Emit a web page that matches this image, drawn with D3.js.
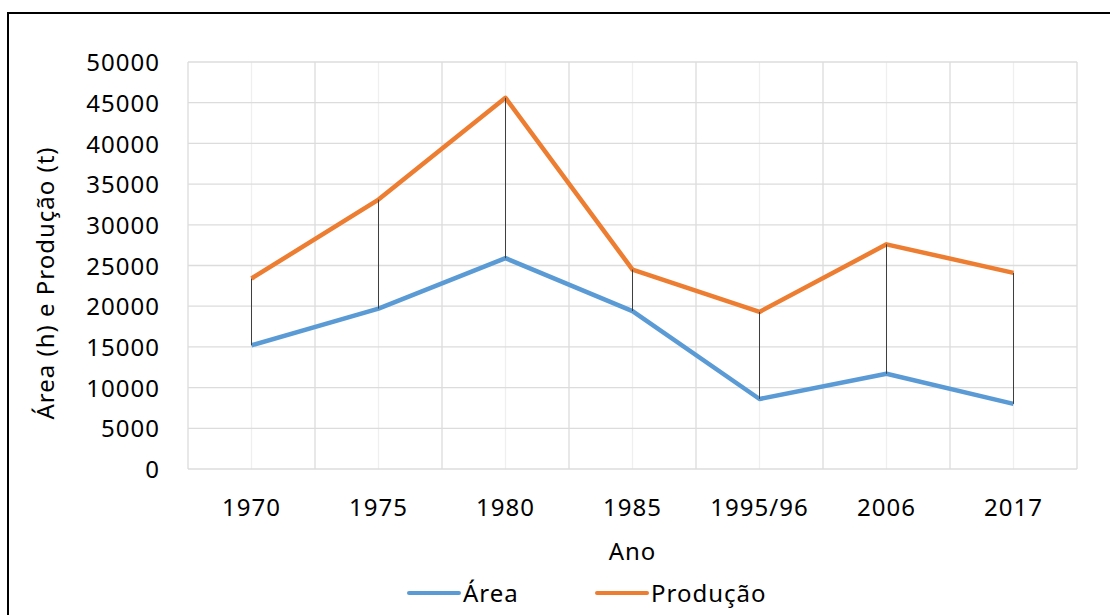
<!DOCTYPE html>
<html>
<head>
<meta charset="utf-8">
<script src="https://cdn.jsdelivr.net/npm/d3@7"></script>
<style>
	body { margin: 0; background: #fff; }
	svg text { font-family: 'Noto Sans', sans-serif; font-size: 24px; letter-spacing: 1px; fill: #000; }
</style>
</head>
<body>
<div id="chart"></div>
<script>
// Values
var anos = ['1970', '1975', '1980', '1985', '1995/96', '2006', '2017'];
var area = [15200, 19700, 25900, 19400, 8600, 11700, 8000];
var producao = [23400, 33100, 45600, 24500, 19300, 27600, 24100];
var yTicks = [0, 5000, 10000, 15000, 20000, 25000, 30000, 35000, 40000, 45000, 50000];
var seriesNames = ['Área', 'Produção'];
var seriesColors = ['#5b9bd5', '#ed7d31'];

var W = 1110, H = 615;
var margin = {top: 62, right: 33, bottom: 146, left: 188};

var svg = d3.select('#chart')
	.append('svg')
	.attr('width', W)
	.attr('height', H);

// outer frame (cut off at the right and bottom in the original)
svg.append('rect')
	.attr('x', 8)
	.attr('y', 13)
	.attr('width', W + 20)
	.attr('height', H + 20)
	.attr('fill', 'none')
	.attr('stroke', '#000')
	.attr('stroke-width', 2);

var x = d3.scaleBand().domain(anos).range([margin.left, W - margin.right]);
var y = d3.scaleLinear().domain([0, 50000]).range([H - margin.bottom, margin.top]);

var grid = svg.append('g').attr('class', 'grid');

// minor vertical gridlines at category centres
grid.selectAll('line.minor')
	.data(anos)
	.enter()
	.append('line')
	.attr('class', 'minor')
	.attr('x1', function(d) { return x(d) + x.bandwidth() / 2; })
	.attr('x2', function(d) { return x(d) + x.bandwidth() / 2; })
	.attr('y1', y(0))
	.attr('y2', y(50000))
	.attr('stroke', '#efefef')
	.attr('stroke-width', 1.3);

// major vertical gridlines at category boundaries
var bounds = anos.map(function(d) { return x(d); }).concat([x.range()[1]]);
grid.selectAll('line.major')
	.data(bounds)
	.enter()
	.append('line')
	.attr('class', 'major')
	.attr('x1', function(d) { return d; })
	.attr('x2', function(d) { return d; })
	.attr('y1', y(0))
	.attr('y2', y(50000))
	.attr('stroke', '#dcdcdc')
	.attr('stroke-width', 1.3);

// horizontal gridlines
grid.selectAll('line.h')
	.data(yTicks)
	.enter()
	.append('line')
	.attr('class', 'h')
	.attr('x1', x.range()[0])
	.attr('x2', x.range()[1])
	.attr('y1', function(d) { return y(d); })
	.attr('y2', function(d) { return y(d); })
	.attr('stroke', '#dcdcdc')
	.attr('stroke-width', 1.3);

// y axis labels
var yAxis = d3.axisLeft(y).tickValues(yTicks).tickSize(0).tickPadding(0).tickFormat(d3.format('d'));
svg.append('g')
	.attr('transform', 'translate(' + 160 + ',0)')
	.call(yAxis)
	.call(function(g) { g.select('.domain').remove(); })
	.selectAll('text')
	.attr('font-size', null)
	.attr('font-family', null)
	.attr('dy', '0.36em');

// x axis labels
var xAxis = d3.axisBottom(x).tickSize(0).tickPadding(0);
svg.append('g')
	.attr('transform', 'translate(0,' + 499 + ')')
	.call(xAxis)
	.call(function(g) { g.select('.domain').remove(); })
	.selectAll('text')
	.attr('font-size', null)
	.attr('font-family', null)
	.attr('dy', '0.72em');

// axis titles
svg.append('text')
	.attr('x', (x.range()[0] + x.range()[1]) / 2)
	.attr('y', 560)
	.attr('text-anchor', 'middle')
	.text('Ano');

svg.append('text')
	.attr('transform', 'translate(54,283) rotate(-90)')
	.attr('text-anchor', 'middle')
	.text('Área (h) e Produção (t)');

// lines
var line = d3.line()
	.x(function(d, i) { return x(anos[i]) + x.bandwidth() / 2; })
	.y(function(d) { return y(d); });

[area, producao].forEach(function(values, k) {
	svg.append('path')
		.datum(values)
		.attr('d', line)
		.attr('fill', 'none')
		.attr('stroke', seriesColors[k])
		.attr('stroke-width', 4.5)
		.attr('stroke-linejoin', 'round');
});

// drop lines between the two series
svg.append('g')
	.selectAll('line')
	.data(anos)
	.enter()
	.append('line')
	.attr('x1', function(d) { return x(d) + x.bandwidth() / 2; })
	.attr('x2', function(d) { return x(d) + x.bandwidth() / 2; })
	.attr('y1', function(d, i) { return y(producao[i]); })
	.attr('y2', function(d, i) { return y(area[i]); })
	.attr('stroke', '#3f3f3f')
	.attr('stroke-width', 1);

// legend
var legendX = [409, 597];
var legend = svg.append('g')
	.selectAll('g')
	.data(seriesNames)
	.enter()
	.append('g')
	.attr('transform', function(d, i) { return 'translate(' + legendX[i] + ',593)'; });
legend.append('line')
	.attr('x1', 0)
	.attr('x2', 50)
	.attr('stroke', function(d, i) { return seriesColors[i]; })
	.attr('stroke-width', 4)
	.attr('stroke-linecap', 'round');
legend.append('text')
	.attr('x', 54)
	.attr('dy', '0.36em')
	.text(function(d) { return d; });
</script>
</body>
</html>
